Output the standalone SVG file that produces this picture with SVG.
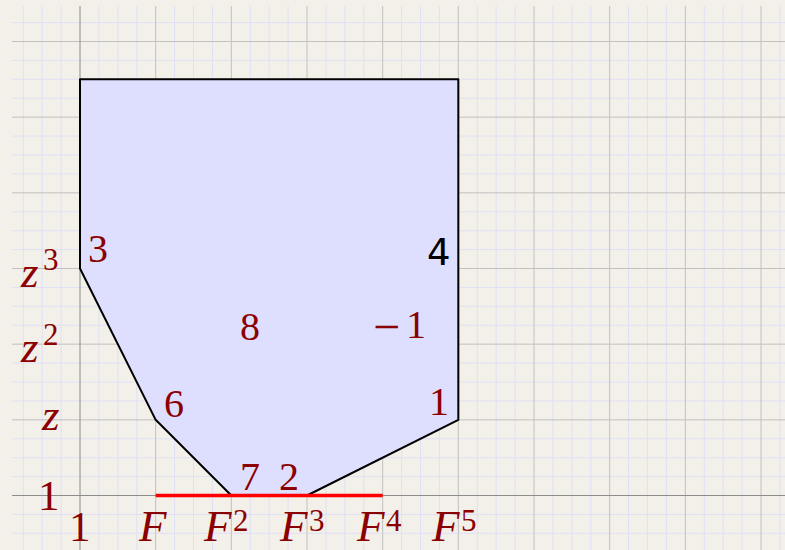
<svg xmlns="http://www.w3.org/2000/svg" width="785" height="550" viewBox="0 0 785 550">
<style>
.minor{stroke:#e0e0f6;stroke-width:1;fill:none}
.major{stroke:#c2c0c0;stroke-width:1;fill:none}
.axis{stroke:#8c8c8c;stroke-width:1;fill:none}
.lbl{font-family:"Liberation Serif","DejaVu Serif",serif;fill:#8b0000;font-size:40px}
.big{font-size:43px}
.it{font-style:italic;font-size:45px}
.sup{font-family:"Liberation Serif","DejaVu Serif",serif;fill:#8b0000;font-size:31px}
.sans{font-family:"DejaVu Sans","Liberation Sans",sans-serif;fill:#000;font-size:37px}
</style>
<rect width="785" height="550" fill="#f3efe9"/>
<g id="grid">
<path class="minor" d="M23.25 6V550M42.17 6V550M61.08 6V550M98.92 6V550M117.83 6V550M136.75 6V550M174.58 6V550M193.5 6V550M212.42 6V550M250.25 6V550M269.17 6V550M288.08 6V550M325.92 6V550M344.83 6V550M363.75 6V550M401.58 6V550M420.5 6V550M439.42 6V550M477.25 6V550M496.17 6V550M515.08 6V550M552.92 6V550M571.83 6V550M590.75 6V550M628.58 6V550M647.5 6V550M666.42 6V550M704.25 6V550M723.17 6V550M742.08 6V550M779.92 6V550"/>
<path class="minor" d="M12 533.33H785M12 514.42H785M12 476.58H785M12 457.67H785M12 438.75H785M12 400.92H785M12 382H785M12 363.08H785M12 325.25H785M12 306.33H785M12 287.42H785M12 249.58H785M12 230.67H785M12 211.75H785M12 173.92H785M12 155H785M12 136.08H785M12 98.25H785M12 79.33H785M12 60.42H785M12 22.58H785"/>
<path class="major" d="M155.67 6V550M231.33 6V550M307 6V550M382.67 6V550M458.33 6V550M534 6V550M609.67 6V550M685.33 6V550M761 6V550"/>
<path class="major" d="M12 419.83H785M12 344.17H785M12 268.5H785M12 192.83H785M12 117.17H785M12 41.5H785"/>
<path class="axis" d="M80 6V550M12 495.5H785"/>
</g>
<g id="polygon">
<path d="M80 79.33H458.33V419.83L307 495.5H231.33L155.67 419.83L80 268.5Z" fill="#dedeff" stroke="#000" stroke-width="2" stroke-linejoin="round"/>
</g>
<g id="connectors">
<path d="M155.67 495.5H382.67" stroke="#ff0000" stroke-width="3.5"/>
</g>
<g id="labels">
<text class="lbl" x="88" y="262">3</text>
<text class="lbl" x="164" y="417">6</text>
<text class="lbl" x="240" y="490">7</text>
<text class="lbl" x="279" y="490">2</text>
<text class="lbl" x="240" y="340">8</text>
<text class="lbl" x="373" y="338"><tspan font-size="48" dy="5">−</tspan><tspan x="406" dy="-5">1</tspan></text>
<text class="lbl" x="429" y="415">1</text>
<text class="sans" x="427" y="265">4</text>
</g>
<g id="axis-labels">
<text class="lbl it" x="21" y="287">z</text><text class="sup" x="43" y="270">3</text>
<text class="lbl it" x="21" y="362">z</text><text class="sup" x="43" y="345">2</text>
<text class="lbl it" x="42" y="430">z</text>
<text class="lbl big" x="38" y="510">1</text>
<text class="lbl big" x="69" y="541">1</text>
<text class="lbl it" x="139" y="541">F</text>
<text class="lbl it" x="204" y="541">F</text><text class="sup" x="233" y="531">2</text>
<text class="lbl it" x="280" y="541">F</text><text class="sup" x="309" y="531">3</text>
<text class="lbl it" x="357" y="541">F</text><text class="sup" x="386" y="531">4</text>
<text class="lbl it" x="432" y="541">F</text><text class="sup" x="461" y="531">5</text>
</g>
</svg>
